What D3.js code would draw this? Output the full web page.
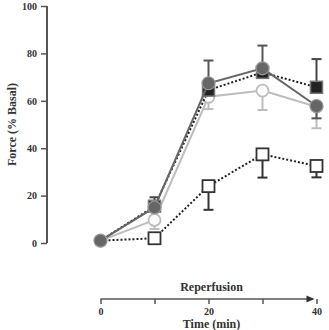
<!DOCTYPE html>
<html><head><meta charset="utf-8">
<script src="https://cdn.jsdelivr.net/npm/d3@7"></script>
<style>html,body{margin:0;padding:0;background:#fff;} svg{display:block;}</style>
</head><body>
<script>
const times = [0, 10, 20, 30, 40];
const yTicks = [0, 20, 40, 60, 80, 100];
const xTicks = [0, 10, 20, 30, 40];
const xLabels = ["0", "", "20", "", "40"];

// series values (% basal)
const openSquare = [1, 2, 24, 37.4, 32.5];
const openSquareLow = [null, null, 14, 27.6, 27.7];
const lightCircle = [1, 9.7, 61.7, 64.3, 57.5];
const lightCircleLow = [null, 5.9, 56.5, 56.1, 48.4];
const darkSquare = [1, 15.5, 64.5, 72, 65.7];
const darkSquareHigh = [null, 19.3, null, null, 77.6];
const darkCircle = [1, 15, 67.4, 73.7, 57.8];
const darkCircleHigh = [null, null, 77, 83.3, null];
const darkCircleLow = [null, null, null, null, 52.6];

const W = 329, H = 330;
const svg = d3.select("body").append("svg").attr("width", W).attr("height", H);

const x = d3.scaleLinear().domain([0, 40]).range([100.5, 316.5]);
const y = d3.scaleLinear().domain([0, 100]).range([243, 6]);

const serif = "'Liberation Serif', 'DejaVu Serif', serif";

// y axis
const yAxis = svg.append("g").attr("transform", "translate(47,0)")
  .call(d3.axisLeft(y).tickValues(yTicks).tickSize(6).tickPadding(4).tickFormat(d3.format("d")));
yAxis.select(".domain").attr("stroke", "#555").attr("stroke-width", 2).attr("d", `M0,${y(100)}V${y(0)}`);
yAxis.selectAll(".tick line").attr("stroke", "#555").attr("stroke-width", 1.5);
yAxis.selectAll(".tick text").attr("fill", "#333").attr("font-family", serif)
  .attr("font-weight", "bold").attr("font-size", 10);

svg.append("text").attr("transform", `translate(16,${y(50)}) rotate(-90)`)
  .attr("text-anchor", "middle").attr("font-family", serif).attr("font-weight", "bold")
  .attr("font-size", 12).attr("fill", "#333").text("Force (% Basal)");

// bottom time axis
const axY = 299;
const xAxis = svg.append("g").attr("transform", `translate(0,${axY})`)
  .call(d3.axisBottom(x).tickValues(xTicks).tickSize(5).tickPadding(4).tickFormat((d, i) => xLabels[i]));
xAxis.select(".domain").attr("stroke", "#555").attr("stroke-width", 1.5).attr("d", `M${x(0)},0H${x(40) - 4}`);
xAxis.selectAll(".tick line").attr("stroke", "#555").attr("stroke-width", 1.5);
xAxis.selectAll(".tick text").attr("fill", "#333").attr("font-family", serif)
  .attr("font-weight", "bold").attr("font-size", 10);
svg.append("path")
  .attr("d", `M${x(40) - 10},${axY - 3.5}L${x(40) - 2},${axY}L${x(40) - 10},${axY + 3.5}Z`)
  .attr("fill", "#333");

svg.append("text").attr("x", x(20) + 3).attr("y", 291).attr("text-anchor", "middle")
  .attr("font-family", serif).attr("font-weight", "bold").attr("font-size", 12).attr("fill", "#333")
  .text("Reperfusion");
svg.append("text").attr("x", x(20) + 3).attr("y", 328).attr("text-anchor", "middle")
  .attr("font-family", serif).attr("font-weight", "bold").attr("font-size", 12).attr("fill", "#333")
  .text("Time (min)");

const line = d3.line().x((d, i) => x(times[i])).y(d => y(d));
const pts = vals => times.map((t, i) => ({ t, v: vals[i] }));

function errBars(vals, ends, color) {
  const data = times.map((t, i) => ({ t, v: vals[i], e: ends[i] })).filter(d => d.e != null);
  const g = svg.append("g").attr("stroke", color).attr("stroke-width", 2);
  g.selectAll("line.v").data(data).join("line")
    .attr("x1", d => x(d.t)).attr("x2", d => x(d.t)).attr("y1", d => y(d.v)).attr("y2", d => y(d.e));
  g.selectAll("line.c").data(data).join("line")
    .attr("x1", d => x(d.t) - 5).attr("x2", d => x(d.t) + 5).attr("y1", d => y(d.e)).attr("y2", d => y(d.e));
}

// open squares (dotted)
svg.append("path").datum(openSquare).attr("d", line).attr("fill", "none")
  .attr("stroke", "#222").attr("stroke-width", 2).attr("stroke-dasharray", "2,2");
errBars(openSquare, openSquareLow, "#333");
svg.append("g").selectAll("rect").data(pts(openSquare).filter(d => d.t > 0)).join("rect")
  .attr("x", d => x(d.t) - 6).attr("y", d => y(d.v) - 6).attr("width", 12).attr("height", 12)
  .attr("fill", "#fff").attr("stroke", "#333").attr("stroke-width", 1.8);

// light circles
svg.append("path").datum(lightCircle).attr("d", line).attr("fill", "none")
  .attr("stroke", "#bdbdbd").attr("stroke-width", 2);
errBars(lightCircle, lightCircleLow, "#bdbdbd");
svg.append("g").selectAll("circle").data(pts(lightCircle)).join("circle")
  .attr("cx", d => x(d.t)).attr("cy", d => y(d.v)).attr("r", 6)
  .attr("fill", "#fff").attr("stroke", "#bdbdbd").attr("stroke-width", 1.8);

// dark squares (dotted)
svg.append("path").datum(darkSquare).attr("d", line).attr("fill", "none")
  .attr("stroke", "#222").attr("stroke-width", 2).attr("stroke-dasharray", "2,2");
errBars(darkSquare, darkSquareHigh, "#444");
svg.append("g").selectAll("rect").data(pts(darkSquare).filter(d => d.t > 0)).join("rect")
  .attr("x", d => x(d.t) - 6).attr("y", d => y(d.v) - 6).attr("width", 12).attr("height", 12)
  .attr("fill", "#222").attr("stroke", "#777").attr("stroke-width", 1.5);

// dark circles
svg.append("path").datum(darkCircle).attr("d", line).attr("fill", "none")
  .attr("stroke", "#666").attr("stroke-width", 2);
errBars(darkCircle, darkCircleHigh, "#555");
errBars(darkCircle, darkCircleLow, "#555");
svg.append("g").selectAll("circle").data(pts(darkCircle)).join("circle")
  .attr("cx", d => x(d.t)).attr("cy", d => y(d.v)).attr("r", 6.5)
  .attr("fill", "#666").attr("stroke", "#999").attr("stroke-width", 1.2);
</script>
</body></html>
